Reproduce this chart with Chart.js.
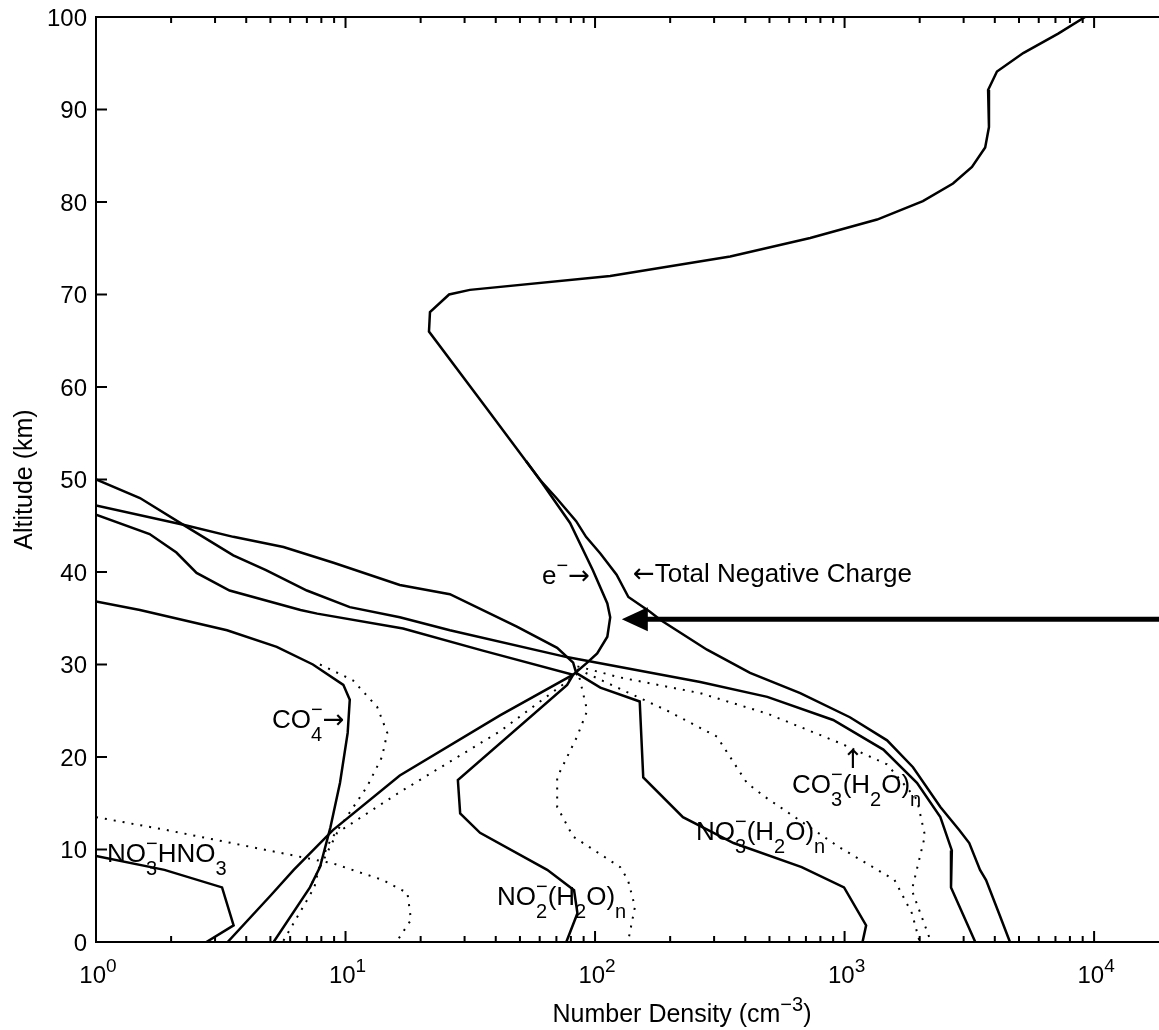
<!DOCTYPE html>
<html>
<head>
<meta charset="utf-8">
<script src="https://cdn.jsdelivr.net/npm/chart.js@4.4.0/dist/chart.umd.min.js"></script>
<style>
  html, body { margin: 0; padding: 0; background: #fff; }
  canvas { display: block; }
</style>
</head>
<body>
<canvas id="ionChart" width="1159" height="1030"></canvas>
<script>
// Altitude (km) and number density (cm^-3) for each profile
const totalAlt = [100, 98.2, 96.1, 94.1, 92.1, 88.1, 85.9, 83.8, 82.0, 80.1, 78.1, 76.1, 74.1, 72.0, 70.5, 70.0, 68.1, 66.0, 57.6, 50, 48, 45.5, 43.8, 42, 39.7, 37.3, 35.7, 34.8, 31.6, 29.1, 26.9, 24.3, 21.8, 18.9, 14.6, 12.1, 10.7, 7.8, 6.7, 3, 0];
const totalDen = [9200, 7180, 5200, 4080, 3760, 3790, 3660, 3240, 2720, 2060, 1350, 728, 348, 115, 31.5, 26, 21.8, 21.6, 37, 60, 70, 84, 92, 105, 122, 136, 166, 183, 281, 418, 664, 1050, 1480, 1880, 2420, 2880, 3160, 3490, 3690, 4170, 4600];

const elecAlt = [52, 50, 45.3, 40.2, 36.6, 35.1, 33, 31.2, 30.2, 28.9, 24.5, 18, 12.1, 7.8, 5, 0];
const elecDen = [52.9, 60, 79.4, 98, 112, 115, 112, 102, 93, 81.7, 41.6, 16.5, 8.9, 6.2, 5.0, 3.37];
const elecDotAlt = [29, 22.8, 16.2, 11.8, 8.1, 5.9];
const elecDotDen = [85, 41.7, 16.5, 9.25, 7.9, 7.2];

const co4Alt = [36.8, 35.9, 33.7, 31.9, 30.0, 27.8, 26.2, 22.6, 17.2, 12.4, 8.1, 5.9, 0];
const co4Den = [1, 1.5, 3.35, 5.3, 7.4, 9.8, 10.4, 10.2, 9.5, 8.7, 7.9, 7.2, 5.15];
const co4DotAlt = [30.0, 28.3, 25.4, 22.6, 20, 16.8, 13.5, 11, 8.5, 5.9, 0];
const co4DotDen = [7.9, 10.7, 13.4, 14.7, 14, 12.2, 10.1, 8.7, 7.9, 7.5, 5.6];

const hno3Alt = [9.3, 7.8, 5.9, 1.8, 0];
const hno3Den = [1, 1.88, 3.2, 3.56, 2.77];
const hno3DotAlt = [13.5, 12.1, 10.3, 8.5, 6.7, 5.3, 2.4, 0];
const hno3DotDen = [1, 1.92, 4.14, 8.9, 14.1, 17.7, 18.3, 16];

const co3Alt = [50, 48, 44.9, 41.8, 40.2, 38, 36.2, 35.1, 33.7, 30.8, 28.1, 26.5, 24, 20.8, 17.2, 13.5, 9.9, 5.9, 0];
const co3Den = [1, 1.5, 2.3, 3.55, 4.8, 7.0, 10.4, 16.5, 26.2, 77, 264, 490, 900, 1430, 1950, 2420, 2690, 2670, 3340];
const co3DotAlt = [29.8, 28.6, 26.9, 24.7, 21.5, 19.2, 15.4, 11.5, 5.6, 0];
const co3DotDen = [85, 126, 264, 489, 960, 1480, 1950, 2100, 1860, 2220];

const no3Alt = [47.2, 45.1, 43.8, 42.7, 41, 38.6, 37.6, 34.1, 31.8, 30.2, 29.1, 27.5, 26, 17.8, 13.5, 10.7, 8.1, 5.9, 1.8, 0];
const no3Den = [1, 2.24, 3.55, 5.64, 8.95, 16.5, 26.2, 48.6, 70.5, 81.7, 84, 105, 151, 156, 225, 359, 673, 995, 1220, 1180];
const no3DotAlt = [29.5, 25, 22.2, 17.2, 15.7, 10.3, 6.7, 3.1, 0];
const no3DotDen = [85, 195, 308, 406, 479, 946, 1585, 1862, 2000];

const no2Alt = [46.2, 44.1, 42.1, 39.9, 38, 35.9, 35.5, 33.9, 31.5, 28.9, 27.8, 17.5, 13.9, 11.8, 7.8, 5.6, 3.1, 0];
const no2Den = [1, 1.64, 2.1, 2.53, 3.43, 6.6, 7.7, 17, 35.5, 81.7, 77.3, 28.2, 28.8, 34.6, 64.3, 82.4, 85, 76.7];
const no2DotAlt = [29.5, 25, 22.2, 17.8, 14.6, 11.4, 8.1, 6.7, 3.8, 0];
const no2DotDen = [85, 93, 84.7, 70.5, 70.5, 81.7, 126, 135.5, 144.5, 135.5];

// axis ticks
const altTicks = [0, 10, 20, 30, 40, 50, 60, 70, 80, 90, 100];
const denTicks = [1, 10, 100, 1000, 10000];
const denTickLabels = ['10^{0}', '10^{1}', '10^{2}', '10^{3}', '10^{4}'];

const FONT = '"Liberation Sans", Arial, Helvetica, sans-serif';
const ARROW_FONT = '"DejaVu Sans", sans-serif';
const ARROWS = '←→↑';

function profile(den, alt) {
  return den.map((d, i) => ({ x: d, y: alt[i] }));
}

function solid(den, alt) {
  return { data: profile(den, alt), borderColor: '#000', borderWidth: 2.5, showLine: true, pointRadius: 0, tension: 0 };
}

function dotted(den, alt) {
  return { data: profile(den, alt), borderColor: '#000', borderWidth: 2, borderDash: [2, 7], showLine: true, pointRadius: 0, tension: 0 };
}

// split "NO_{3}^{-}" style strings into plain runs, arrow glyphs and stacked scripts
function texParts(str) {
  const parts = [];
  let i = 0;
  while (i < str.length) {
    const c = str[i];
    const last = parts[parts.length - 1];
    if ((c === '_' || c === '^') && str[i + 1] === '{') {
      const end = str.indexOf('}', i);
      const key = c === '_' ? 'sub' : 'sup';
      if (last && last.script && !last[key]) last[key] = str.slice(i + 2, end);
      else parts.push({ script: true, [key]: str.slice(i + 2, end) });
      i = end + 1;
    } else if (ARROWS.includes(c)) {
      parts.push({ text: c, arrow: true });
      i++;
    } else {
      if (last && !last.script && !last.arrow) last.text += c;
      else parts.push({ text: c });
      i++;
    }
  }
  return parts;
}

function drawTex(ctx, str, x, y, size, align) {
  const parts = texParts(str);
  const base = size + 'px ' + FONT;
  const arrow = size + 'px ' + ARROW_FONT;
  const script = Math.round(size * 0.78) + 'px ' + FONT;
  const fontOf = p => (p.script ? script : p.arrow ? arrow : base);
  const widthOf = p => {
    ctx.font = fontOf(p);
    if (!p.script) return ctx.measureText(p.text).width;
    return Math.max(p.sub ? ctx.measureText(p.sub).width : 0, p.sup ? ctx.measureText(p.sup).width : 0);
  };
  const total = parts.reduce((s, p) => s + widthOf(p), 0);
  let cx = align === 'center' ? x - total / 2 : align === 'right' ? x - total : x;
  ctx.textAlign = 'left';
  ctx.textBaseline = 'alphabetic';
  parts.forEach(p => {
    const w = widthOf(p);
    ctx.font = fontOf(p);
    if (!p.script) {
      ctx.fillText(p.text, cx, y);
    } else {
      if (p.sub) ctx.fillText(p.sub, cx, y + size * 0.5);
      if (p.sup) ctx.fillText(p.sup, cx, y - size * 0.45);
    }
    cx += w;
  });
}

// species labels, placed in canvas pixels
const notes = [
  ['CO_{4}^{−}→', 272, 728],
  ['NO_{3}^{−}HNO_{3}', 107, 862],
  ['NO_{2}^{−}(H_{2}O)_{n}', 497, 905],
  ['NO_{3}^{−}(H_{2}O)_{n}', 696, 840],
  ['CO_{3}^{−}(H_{2}O)_{n}', 792, 793],
  ['↑', 842, 768],
  ['e^{−}→', 542, 584],
  ['←Total Negative Charge', 633, 582]
];

const framePlugin = {
  id: 'frame',
  afterDraw(chart) {
    const { ctx, chartArea: a, scales: { x, y } } = chart;
    ctx.save();
    ctx.strokeStyle = '#000';
    ctx.fillStyle = '#000';
    ctx.lineWidth = 2;
    ctx.beginPath();
    ctx.moveTo(a.right, a.top);
    ctx.lineTo(a.left, a.top);
    ctx.lineTo(a.left, a.bottom);
    ctx.lineTo(a.right, a.bottom);
    ctx.stroke();

    // altitude ticks, drawn inward
    altTicks.forEach(v => {
      const py = y.getPixelForValue(v);
      ctx.beginPath();
      ctx.moveTo(a.left, py);
      ctx.lineTo(a.left + 11, py);
      ctx.stroke();
      drawTex(ctx, String(v), a.left - 9, py + 8.5, 24, 'right');
    });

    // log ticks on bottom and top edges
    for (let d = 0; d <= 4; d++) {
      for (let m = 1; m <= 9; m++) {
        const v = m * Math.pow(10, d);
        if (v > x.max) continue;
        const px = x.getPixelForValue(v);
        const len = m === 1 ? 11 : 6;
        ctx.beginPath();
        ctx.moveTo(px, a.bottom);
        ctx.lineTo(px, a.bottom - len);
        ctx.moveTo(px, a.top);
        ctx.lineTo(px, a.top + len);
        ctx.stroke();
      }
    }
    denTicks.forEach((v, i) => {
      drawTex(ctx, denTickLabels[i], x.getPixelForValue(v) + 2, a.bottom + 41, 24, 'center');
    });

    // axis titles
    drawTex(ctx, 'Number Density (cm^{−3})', 682, 1022, 25, 'center');
    ctx.save();
    ctx.translate(32, (a.top + a.bottom) / 2);
    ctx.rotate(-Math.PI / 2);
    drawTex(ctx, 'Altitude (km)', 0, 0, 25, 'center');
    ctx.restore();

    notes.forEach(n => drawTex(ctx, n[0], n[1], n[2], 26, 'left'));

    // heavy pointer toward the electron density peak
    const tipX = x.getPixelForValue(128);
    const tipY = y.getPixelForValue(34.9);
    ctx.lineWidth = 5;
    ctx.beginPath();
    ctx.moveTo(a.right, tipY);
    ctx.lineTo(tipX + 24, tipY);
    ctx.stroke();
    ctx.beginPath();
    ctx.moveTo(tipX, tipY);
    ctx.lineTo(tipX + 26, tipY - 12);
    ctx.lineTo(tipX + 26, tipY + 12);
    ctx.closePath();
    ctx.fill();
    ctx.restore();
  }
};

new Chart(document.getElementById('ionChart').getContext('2d'), {
  type: 'scatter',
  data: {
    datasets: [
      solid(totalDen, totalAlt),
      solid(elecDen, elecAlt),
      dotted(elecDotDen, elecDotAlt),
      solid(co4Den, co4Alt),
      dotted(co4DotDen, co4DotAlt),
      solid(hno3Den, hno3Alt),
      dotted(hno3DotDen, hno3DotAlt),
      solid(co3Den, co3Alt),
      dotted(co3DotDen, co3DotAlt),
      solid(no3Den, no3Alt),
      dotted(no3DotDen, no3DotAlt),
      solid(no2Den, no2Alt),
      dotted(no2DotDen, no2DotAlt)
    ]
  },
  options: {
    responsive: false,
    animation: false,
    layout: { padding: { left: 96, right: 0, top: 17, bottom: 88 } },
    plugins: { legend: { display: false }, tooltip: { enabled: false } },
    scales: {
      x: { type: 'logarithmic', min: 1, max: 18200, display: false },
      y: { type: 'linear', min: 0, max: 100, display: false }
    }
  },
  plugins: [framePlugin]
});
</script>
</body>
</html>
